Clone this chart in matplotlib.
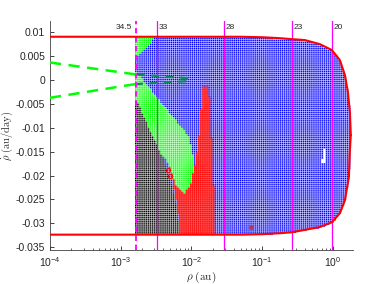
import numpy as np
import matplotlib.pyplot as plt
from matplotlib.path import Path
from matplotlib.colors import to_rgba

plt.rcParams['font.family'] = ['Liberation Sans', 'DejaVu Sans']
plt.rcParams['mathtext.fontset'] = 'cm'

# outer boundary curve, top branch then bottom branch (rho in au, rhodot in au/day)
bnd_rho_top = [1e-4, 0.05, 0.1, 0.178, 0.263, 0.402, 0.654, 0.968, 1.256, 1.478, 1.629, 1.738, 1.79]
bnd_vel_top = [0.0091, 0.0091, 0.0090, 0.0088, 0.0086, 0.0084, 0.00755, 0.0063, 0.0042, 0.00105,
               -0.0025, -0.0067, -0.0115]
bnd_rho_bot = [1.79, 1.738, 1.683, 1.478, 1.256, 0.968, 0.654, 0.402, 0.263, 0.178, 0.1, 0.05, 1e-4]
bnd_vel_bot = [-0.0115, -0.0147, -0.0203, -0.0252, -0.0279, -0.0298, -0.0308, -0.0314, -0.0319,
               -0.0321, -0.0323, -0.0324, -0.0324]

# region outlines
green_top_rho = [1.6e-3, 3.3e-3, 1.7e-3, 1.6e-3]
green_top_vel = [0.0095, 0.0095, 0.0050, 0.0050]
green_rho = [1.6e-3, 3.36e-3, 8.92e-3, 1.084e-2, 9.84e-3, 7.83e-3, 6.04e-3, 5.13e-3, 4.36e-3, 1.6e-3]
green_vel = [0.0021, -0.0038, -0.0115, -0.0168, -0.0216, -0.0237, -0.0222, -0.0189, -0.0164, -0.0126]
black_rho = [1.6e-3, 1.7e-3, 2.59e-3, 4.1e-3, 4.8e-3, 5.9e-3, 6.87e-3, 1.6e-3]
black_vel = [-0.0042, -0.0042, -0.0105, -0.0168, -0.0199, -0.0252, -0.0330, -0.0330]
red_rho = [4.36e-3, 5.3e-3, 6.24e-3, 6.87e-3, 2.15e-2, 2.08e-2, 2.01e-2, 1.95e-2, 1.89e-2, 1.77e-2,
           1.66e-2, 1.45e-2, 1.41e-2, 1.32e-2, 1.28e-2, 1.20e-2, 1.16e-2, 1.084e-2]
red_vel = [-0.0160, -0.0210, -0.0262, -0.0330, -0.0330, -0.0252, -0.0199, -0.0168, -0.0111, -0.0031,
           -0.0013, -0.0013, -0.0031, -0.0078, -0.0111, -0.0140, -0.0168, -0.0178]
hole_rho = [0.74, 0.79, 0.79, 0.68, 0.68, 0.74]
hole_vel = [-0.0144, -0.0144, -0.0172, -0.0172, -0.0164, -0.0164]

# grid of sampled initial conditions
rho_min, rho_max = 1.64e-3, 1.82
vel_min, vel_max = -0.0326, 0.0093
n_rho, n_vel = 104, 98

# green dashed curves
dash_rho = [1e-4, 1.64e-3]
dash_up = [0.0037, 0.0012]
dash_lo = [-0.0037, -0.0008]
loop_rho = [1.7e-3, 9.0e-3, 9.5e-3, 9.0e-3, 1.7e-3]
loop_vel = [0.0012, 0.0004, 0.0000, -0.0002, -0.0008]

# vertical reference lines
vline_rho = [1.64e-3, 3.25e-3, 0.0288, 0.263, 0.968]
vline_lab = ['34.5', '33', '28', '23', '20']

circ_rho = [4.66e-3, 4.97e-3]
circ_vel = [-0.0189, -0.0201]
star_rho = [0.0693]
star_vel = [-0.0308]

xlim = (1e-4, 1.92)
ylim = (-0.0356, 0.0124)


def make_path(r, v):
    return Path(np.column_stack([np.log10(r), v]))


fig = plt.figure(figsize=(3.9, 2.84), dpi=100)
pos = [0.128, 0.12, 0.777, 0.806]
# underlying linear axes (x in log10 rho) for the dotted grid image
axg = fig.add_axes(pos, zorder=0)
ax = fig.add_axes(pos, zorder=1)
ax.patch.set_visible(False)

lr = np.linspace(np.log10(rho_min), np.log10(rho_max), n_rho)
vv = np.linspace(vel_min, vel_max, n_vel)
lg, vg = np.meshgrid(lr, vv)
pts = np.column_stack([lg.ravel(), vg.ravel()])


def inside(r, v):
    return make_path(r, v).contains_points(pts).reshape(lg.shape)


ok = inside(bnd_rho_top + bnd_rho_bot, bnd_vel_top + bnd_vel_bot) & ~inside(hole_rho, hole_vel)
is_black = inside(black_rho, black_vel)
is_green = (inside(green_rho, green_vel) | inside(green_top_rho, green_top_vel)) & ~is_black
is_red = inside(red_rho, red_vel) & ~is_black & ~is_green

rgba = np.zeros(lg.shape + (4,))
rgba[:] = to_rgba('#0000ff')
rgba[is_green] = to_rgba('#00ff00')
rgba[is_black] = to_rgba('#000000')
rgba[is_red] = to_rgba('#ff0000')
rgba[~ok, 3] = 0

k = 4
img = np.repeat(np.repeat(rgba, k, 0), k, 1)
gap_a = np.repeat(np.repeat(np.where(is_red & ok, 0.55, 0.0), k, 0), k, 1)
img[k - 1::k, :, 3] = gap_a[k - 1::k, :]
img[:, k - 1::k, 3] = gap_a[:, k - 1::k]
dl = (lr[1] - lr[0]) / 2
dv = (vv[1] - vv[0]) / 2
axg.imshow(img, origin='lower', aspect='auto', interpolation='antialiased',
           extent=[lr[0] - dl, lr[-1] + dl, vv[0] - dv, vv[-1] + dv])
axg.set_xlim(np.log10(xlim[0]), np.log10(xlim[1]))
axg.set_ylim(ylim)
axg.axis('off')

for r, lab in zip(vline_rho, vline_lab):
    if lab == '34.5':
        ax.axvline(r, color='#ff00ff', lw=1.3, ls=(0, (3, 2)), zorder=2)
        ax.text(r / 1.12, 0.0111, lab, fontsize=6, ha='right', va='center', color='#262626')
    else:
        ax.axvline(r, color='#ff00ff', lw=0.9, zorder=2)
        ax.text(r * 1.05, 0.0111, lab, fontsize=6, ha='left', va='center', color='#262626')

ax.plot(bnd_rho_top, bnd_vel_top, color='#ff0000', lw=1.5, zorder=3)
ax.plot(bnd_rho_bot, bnd_vel_bot, color='#ff0000', lw=1.5, zorder=3)
ax.plot(dash_rho, dash_up, color='#00ff00', lw=1.8, ls=(0, (4.5, 3)), zorder=3)
ax.plot(dash_rho, dash_lo, color='#00ff00', lw=1.8, ls=(0, (4.5, 3)), zorder=3)
ax.plot(loop_rho, loop_vel, color='#0a8a5a', lw=1.6, ls=(0, (3.5, 3)), zorder=3)
ax.plot(circ_rho, circ_vel, 'o', ms=3, mfc='none', mec='#ff0000', mew=0.7, zorder=4)
ax.plot(star_rho, star_vel, 'o', ms=2.5, color='#b03a5a', zorder=4)

ax.set_xscale('log')
ax.set_xlim(xlim)
ax.set_ylim(ylim)
ax.set_xticks([1e-4, 1e-3, 1e-2, 1e-1, 1e0])
yt = [0.01, 0.005, 0, -0.005, -0.01, -0.015, -0.02, -0.025, -0.03, -0.035]
ax.set_yticks(yt)
ax.set_yticklabels(['0.01', '0.005', '0', '-0.005', '-0.01', '-0.015', '-0.02', '-0.025', '-0.03', '-0.035'])

for side in ['top', 'right']:
    ax.spines[side].set_visible(False)
for side in ['left', 'bottom']:
    ax.spines[side].set_color('#404040')
    ax.spines[side].set_linewidth(0.6)
ax.tick_params(which='major', direction='in', length=3, width=0.6, colors='#262626', labelsize=7.5)
ax.tick_params(which='minor', direction='in', length=1.8, width=0.5, colors='#262626')
ax.tick_params(axis='y', which='minor', left=False)

ax.set_xlabel(r'$\rho\ (\mathrm{au})$', fontsize=8, color='#262626', labelpad=1)
ax.set_ylabel(r'$\dot{\rho}\ (\mathrm{au/day})$', fontsize=7.5, color='#262626', labelpad=0.5)

fig.savefig('out.png', dpi=100)
